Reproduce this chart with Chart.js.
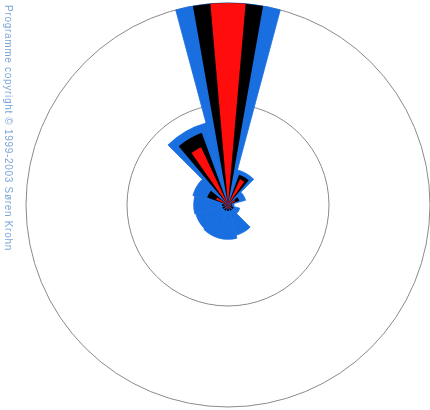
<!DOCTYPE html>
<html>
<head>
<meta charset="utf-8">
<script src="https://cdn.jsdelivr.net/npm/chart.js@4/dist/chart.umd.min.js"></script>
<style>
  html, body { margin: 0; padding: 0; background: #fff; }
</style>
</head>
<body>
<canvas id="rose" width="430" height="410"></canvas>
<script>
// wind rose, 12 sectors, values in % of the largest sector
const directions = ["N", "NNE", "ENE", "E", "ESE", "SSE", "S", "SSW", "WSW", "W", "WNW", "NNW"];
const frequency = [100, 18, 9, 3, 6, 15.5, 17, 17, 16.5, 17, 18, 42];   // blue, widest wedge
const meanSpeed = [100, 16, 6, 2, 3, 3, 3, 3, 3, 3, 11, 38];          // black
const energy = [100, 14, 4, 1.5, 2, 2, 2, 2, 2, 2, 6.5, 31.5];        // red, narrowest
const copyright = "Programme copyright \u00a9 1999-2003 S\u00f8ren Krohn";

// each narrower wedge sits in the middle of its 30 degree sector:
// spacer, wedge, spacer
function padded(values) {
    const out = [];
    values.forEach(v => { out.push(0, v, 0); });
    return out;
}

const sideText = {
    id: "sideText",
    afterDraw(chart) {
        const c = chart.ctx;
        c.save();
        c.translate(5, 5);
        c.rotate(Math.PI / 2);
        c.font = "10px 'Liberation Sans'";
        c.letterSpacing = "0.7px";
        c.fillStyle = "#7ba6d9";
        c.textBaseline = "alphabetic";
        c.fillText(copyright, 0, 0);
        c.restore();
    }
};

const ctx = document.getElementById("rose").getContext("2d");
new Chart(ctx, {
    type: "polarArea",
    data: {
        labels: directions,
        datasets: [
            {
                label: "Energy",
                data: padded(energy),
                backgroundColor: "#ff0d0d",
                borderWidth: 0,
                angle: c => [10, 10, 10][c.dataIndex % 3]
            },
            {
                label: "Mean speed",
                data: padded(meanSpeed),
                backgroundColor: "#000000",
                borderWidth: 0,
                angle: c => [5, 20, 5][c.dataIndex % 3]
            },
            {
                label: "Frequency",
                data: frequency,
                backgroundColor: "#1a6fe0",
                borderColor: "#1a6fe0",
                borderWidth: 0.8
            }
        ]
    },
    options: {
        responsive: false,
        animation: false,
        layout: { padding: { left: 26, top: 2, right: 0, bottom: 2 } },
        plugins: {
            legend: { display: false },
            tooltip: { enabled: false }
        },
        scales: {
            r: {
                min: 0,
                max: 100,
                startAngle: -15,
                ticks: { display: false, stepSize: 50 },
                grid: { color: "#8a8a8a", lineWidth: 1 },
                angleLines: { display: false },
                pointLabels: { display: false }
            }
        }
    },
    plugins: [sideText]
});
</script>
</body>
</html>
